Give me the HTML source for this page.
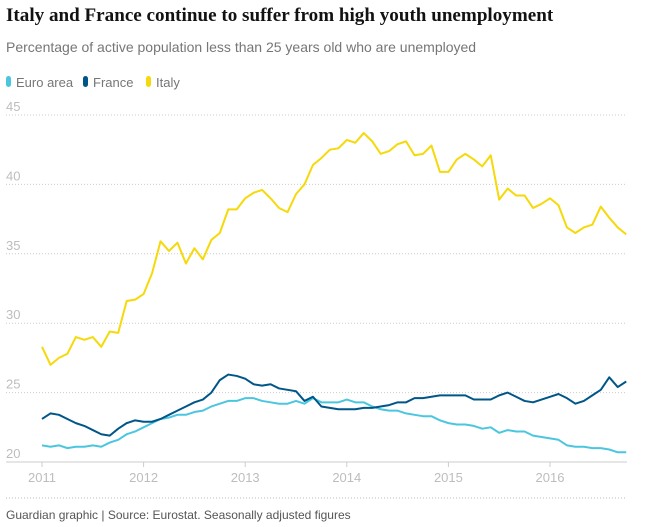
<!DOCTYPE html>
<html><head><meta charset="utf-8"><style>
body{margin:0;background:#fff;width:647px;height:527px;overflow:hidden;font-family:"Liberation Sans",sans-serif}
svg{display:block}
</style></head><body>
<svg width="647" height="527">
<text x="6" y="21" font-family="Liberation Serif" font-weight="bold" font-size="19.1" fill="#121212">Italy and France continue to suffer from high youth unemployment</text>
<text x="6" y="52" font-size="14" fill="#767676">Percentage of active population less than 25 years old who are unemployed</text>
<g font-size="13" fill="#767676">
<g><rect x="6" y="76" width="5" height="11" rx="2.5" fill="#4bc6df"/><text x="16" y="87">Euro area</text></g>
<g><rect x="83" y="76" width="5" height="11" rx="2.5" fill="#005689"/><text x="93" y="87">France</text></g>
<g><rect x="146" y="76" width="5" height="11" rx="2.5" fill="#f5d90a"/><text x="156" y="87">Italy</text></g>
</g>
<g id="grid"></g>
<g id="series"></g>
<line x1="6" x2="627" y1="498" y2="498" stroke="#bbb" stroke-dasharray="1,2"/>
<text x="6" y="519" font-size="12" fill="#555">Guardian graphic | Source: Eurostat. Seasonally adjusted figures</text>
</svg>
<script>
const yTicks=[20,25,30,35,40,45];
const xYears=[2011,2012,2013,2014,2015,2016];
const italy=[28.3,27.0,27.5,27.8,29.0,28.8,29.0,28.3,29.4,29.3,31.6,31.7,32.1,33.6,35.9,35.2,35.8,34.3,35.4,34.6,36.0,36.5,38.2,38.2,39.0,39.4,39.6,39.0,38.3,38.0,39.3,40.0,41.4,41.9,42.5,42.6,43.2,43.0,43.7,43.1,42.2,42.4,42.9,43.1,42.1,42.2,42.8,40.9,40.9,41.8,42.2,41.8,41.3,42.1,38.9,39.7,39.2,39.2,38.3,38.6,39.0,38.5,36.9,36.5,36.9,37.1,38.4,37.6,36.9,36.4];
const france=[23.1,23.5,23.4,23.1,22.8,22.6,22.3,22.0,21.9,22.4,22.8,23.0,22.9,22.9,23.1,23.4,23.7,24.0,24.3,24.5,25.0,25.9,26.3,26.2,26.0,25.6,25.5,25.6,25.3,25.2,25.1,24.4,24.7,24.0,23.9,23.8,23.8,23.8,23.9,23.9,24.0,24.1,24.3,24.3,24.6,24.6,24.7,24.8,24.8,24.8,24.8,24.5,24.5,24.5,24.8,25.0,24.7,24.4,24.3,24.5,24.7,24.9,24.6,24.2,24.4,24.8,25.2,26.1,25.4,25.8];
const euro=[21.2,21.1,21.2,21.0,21.1,21.1,21.2,21.1,21.4,21.6,22.0,22.2,22.5,22.8,23.1,23.2,23.4,23.4,23.6,23.7,24.0,24.2,24.4,24.4,24.6,24.6,24.4,24.3,24.2,24.2,24.4,24.2,24.6,24.3,24.3,24.3,24.5,24.3,24.3,24.0,23.8,23.7,23.7,23.5,23.4,23.3,23.3,23.0,22.8,22.7,22.7,22.6,22.4,22.5,22.1,22.3,22.2,22.2,21.9,21.8,21.7,21.6,21.2,21.1,21.1,21.0,21.0,20.9,20.7,20.7];
const NS='http://www.w3.org/2000/svg';
const y=v=>462-(v-20)*13.88;
const x=m=>42+m*(508/60);
const grid=document.getElementById('grid'),ser=document.getElementById('series');
function mk(t,a,p){const e=document.createElementNS(NS,t);for(const k in a)e.setAttribute(k,a[k]);p.appendChild(e);return e;}
yTicks.forEach(v=>{
 if(v>20){const l=mk('line',{x1:6,x2:627,y1:y(v),y2:y(v),stroke:'#ccc','stroke-dasharray':'1,2'},grid);
 
 }
 const t=mk('text',{x:6,y:y(v)-4,'font-size':13,fill:'#bdbdbd'},grid);t.textContent=v;
 
 
});
const base=mk('line',{x1:6,x2:627,y1:462,y2:462,stroke:'#ccc'},grid);


xYears.forEach((yr,i)=>{
 const px=x(i*12);
 const tk=mk('line',{x1:px,x2:px,y1:462,y2:467,stroke:'#ccc'},grid);
 
 
 const t=mk('text',{x:px,y:482,'font-size':13,fill:'#bdbdbd','text-anchor':'middle'},grid);t.textContent=yr;
 
 
});
[[euro,'#4bc6df','euro-area-line'],[france,'#005689','france-line'],[italy,'#f5d90a','italy-line']].forEach(([d,c,n])=>{
 const p=mk('polyline',{points:d.map((v,i)=>x(i)+','+y(v)).join(' '),fill:'none',stroke:c,'stroke-width':2,'stroke-linejoin':'round'},ser);
 
 
});
</script>
</body></html>
